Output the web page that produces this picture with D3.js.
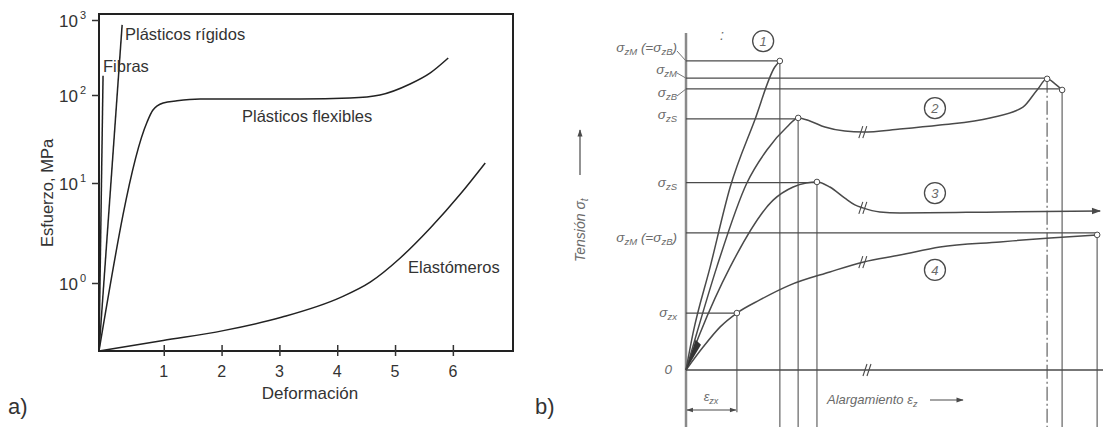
<!DOCTYPE html>
<html>
<head>
<meta charset="utf-8">
<script src="https://cdn.jsdelivr.net/npm/d3@7"></script>
<style>
  body { margin: 0; background: #fff; }
  svg { display: block; }
  .lt { font-family: "Liberation Sans", Arial, sans-serif; fill: #333; }
  .rt { font-family: "Liberation Sans", Arial, sans-serif; font-style: italic; fill: #6a6a6a; }
</style>
</head>
<body>
<script>
// ---------- panel a) data ----------
const xTicks = [1, 2, 3, 4, 5, 6];
const yTicks = [1, 10, 100, 1000];
const yTickExp = ["0", "1", "2", "3"];
// [deformacion, esfuerzo MPa]
const fibras = [[-0.12, 0.2], [-0.05, 180]];
const rigidos = [[-0.12, 0.2], [0.28, 860]];
const flexibles = [[-0.12, 0.2], [0.71, 49], [0.81, 67], [0.99, 81], [1.23, 86], [1.63, 90],
  [3.36, 90], [4.22, 92.4], [4.74, 100], [5.26, 140], [5.61, 197], [5.92, 311]];
const elastomeros = [[-0.12, 0.2], [0.99, 0.257], [2.03, 0.324], [3.05, 0.447], [4.05, 0.708],
  [4.57, 1.02], [5.09, 1.78], [5.61, 3.55], [6.13, 7.76], [6.56, 16.9]];

// ---------- panel b) data (schematic units 0..100) ----------
const curve1 = [[0, 0], [1.7, 11], [5.8, 30.6], [10.6, 54.3], [16.5, 74.2], [21.3, 89.9], [22.5, 91.7]];
const curve2 = [[0, 0], [2.6, 11], [7.4, 30.6], [14.6, 55.5], [19.4, 65.3], [24.2, 72.1], [26.9, 74.8],
  [29.7, 73.9], [33.3, 72.1], [38.1, 70.9], [42.4, 70.6], [51.3, 71.5], [60.9, 72.7], [72.9, 74.8],
  [80.8, 78], [84.2, 83.1], [86.6, 86.4], [88.5, 84.9], [90.2, 83.1]];
const curve3 = [[0, 0], [3.4, 11], [10.6, 30.6], [20.9, 50.4], [25.7, 54.3], [28.8, 55.5], [31.4, 55.8],
  [34.5, 54.3], [38.1, 51.0], [40.5, 49.0], [42.4, 48.1], [46.5, 46.9], [51.3, 46.6], [75.3, 46.9], [99.3, 47.2]];
const curve4 = [[0, 0], [4.1, 6.8], [8.2, 12.8], [12.2, 16.9], [17.7, 20.8], [24.9, 25.2], [34.5, 29.1],
  [42.4, 32], [51.3, 34.1], [60.9, 36.5], [75.3, 38], [87.3, 39.2], [98.6, 40.1]];
const levelValues = [91.7, 86.6, 83.4, 74.5, 55.6, 40.7, 16.9, 0];
const levelEnds = [22.5, 86.6, 90.2, 26.9, 31.4, 98.6, 12.2, 100];
const levelNames = [["σ", "zM", " (=σ", "zB", ")"], ["σ", "zM"], ["σ", "zB"], ["σ", "zS"], ["σ", "zS"],
  ["σ", "zM", " (=σ", "zB", ")"], ["σ", "zx"], ["0"]];
const vertX = [22.5, 26.9, 31.4, 12.2, 86.6, 90.2, 98.6];
const vertTop = [91.7, 74.8, 55.8, 16.9, 86.4, 83.1, 40.1];
const vertDashed = [false, false, false, false, true, false, false];
const endPoints = [[22.5, 91.7], [26.9, 74.8], [31.4, 55.8], [12.2, 16.9], [86.6, 86.4], [90.2, 83.1], [98.6, 40.1]];
const breaks = [[42.4, 70.6], [42.4, 48.1], [42.4, 32], [43.4, 0]];
const circleNums = ["1", "2", "3", "4"];
const circlePos = [[18.5, 97.6], [59.7, 77.7], [59.7, 52.5], [59.7, 29.7]];

const svg = d3.select("body").append("svg").attr("width", 1103).attr("height", 427);

// ================= panel a) =================
const x = d3.scaleLinear().domain([-0.12, 7.04]).range([99, 513]);
const y = d3.scaleLog().domain([0.2, 1, 10, 100, 1000]).range([351, 283, 183, 95, 20]);

const gA = svg.append("g");
gA.append("rect").attr("x", 99).attr("y", 14).attr("width", 414).attr("height", 337)
  .attr("fill", "none").attr("stroke", "#222").attr("stroke-width", 2);

// y ticks
gA.append("g").attr("transform", "translate(99,0)")
  .call(d3.axisLeft(y).tickValues(yTicks).tickFormat("").tickSize(7).tickSizeOuter(0))
  .call(g => g.select(".domain").remove())
  .call(g => g.selectAll("line").attr("stroke", "#333").attr("stroke-width", 1.5));
gA.selectAll(".ylab").data(yTicks).join("text").attr("class", "lt")
  .attr("x", 78).attr("y", d => y(d) + 7).attr("text-anchor", "end").attr("font-size", 17).text("10");
gA.selectAll(".yexp").data(yTicks).join("text").attr("class", "lt")
  .attr("x", 80).attr("y", d => y(d) - 1).attr("font-size", 11).text((d, i) => yTickExp[i]);

// x ticks
gA.append("g").attr("transform", "translate(0,351)")
  .call(d3.axisBottom(x).tickValues(xTicks).tickFormat("").tickSize(5).tickSizeOuter(0))
  .call(g => g.select(".domain").remove())
  .call(g => g.selectAll("line").attr("y1", -6).attr("stroke", "#333").attr("stroke-width", 1.5));
gA.selectAll(".xlab").data(xTicks).join("text").attr("class", "lt")
  .attr("x", d => x(d)).attr("y", 377).attr("text-anchor", "middle").attr("font-size", 16).text(d => d);

gA.append("text").attr("class", "lt").attr("x", 310).attr("y", 399).attr("text-anchor", "middle")
  .attr("font-size", 17).text("Deformación");
gA.append("text").attr("class", "lt").attr("transform", "translate(53,193) rotate(-90)")
  .attr("text-anchor", "middle").attr("font-size", 16.5).text("Esfuerzo, MPa");

const lineA = d3.line().x(d => x(d[0])).y(d => y(d[1]));
const lineAc = d3.line().x(d => x(d[0])).y(d => y(d[1])).curve(d3.curveMonotoneX);
[fibras, rigidos].forEach(s => gA.append("path").attr("d", lineA(s)).attr("fill", "none")
  .attr("stroke", "#222").attr("stroke-width", 1.5));
[flexibles, elastomeros].forEach(s => gA.append("path").attr("d", lineAc(s)).attr("fill", "none")
  .attr("stroke", "#222").attr("stroke-width", 1.5));

gA.append("text").attr("class", "lt").attr("x", 125).attr("y", 40).attr("font-size", 16.5).text("Plásticos rígidos");
gA.append("text").attr("class", "lt").attr("x", 103).attr("y", 72).attr("font-size", 16.5).text("Fibras");
gA.append("text").attr("class", "lt").attr("x", 242).attr("y", 122).attr("font-size", 16.5).text("Plásticos flexibles");
gA.append("text").attr("class", "lt").attr("x", 408).attr("y", 273).attr("font-size", 16.5).text("Elastómeros");
svg.append("text").attr("class", "lt").attr("x", 8).attr("y", 414).attr("font-size", 22).attr("fill", "#111").text("a)");
svg.append("text").attr("class", "lt").attr("x", 535).attr("y", 414).attr("font-size", 22).attr("fill", "#111").text("b)");

// ================= panel b) =================
const xr = d3.scaleLinear().domain([0, 100]).range([686, 1103]);
const yr = d3.scaleLinear().domain([0, 100]).range([370, 33]);
const ink = "#4a4a4a";

const defs = svg.append("defs");
defs.append("marker").attr("id", "arr").attr("viewBox", "0 0 10 10").attr("refX", 9).attr("refY", 5)
  .attr("markerWidth", 9).attr("markerHeight", 6).attr("orient", "auto-start-reverse")
  .append("path").attr("d", "M0,1.5L10,5L0,8.5Z").attr("fill", ink);

const gB = svg.append("g");
// axis
gB.append("line").attr("x1", xr(0)).attr("x2", xr(0)).attr("y1", yr(100)).attr("y2", 427)
  .attr("stroke", "#8a8a8a").attr("stroke-width", 2.5);

// verticals
gB.selectAll(".vert").data(vertX).join("line")
  .attr("x1", d => xr(d)).attr("x2", d => xr(d))
  .attr("y1", (d, i) => yr(vertTop[i])).attr("y2", (d, i) => i === 3 ? yr(-12.5) : 427)
  .attr("stroke", "#8a8a8a").attr("stroke-width", 1.6)
  .attr("stroke-dasharray", (d, i) => vertDashed[i] ? "14,3,2,3" : null);

// levels
gB.selectAll(".lev").data(levelValues).join("line")
  .attr("x1", xr(0)).attr("x2", (d, i) => xr(levelEnds[i]))
  .attr("y1", d => yr(d)).attr("y2", d => yr(d))
  .attr("stroke", ink).attr("stroke-width", 1.3);

const labelY = [48, 70, 93, 115, 183, 238, 313, 370];
levelNames.forEach((parts, i) => {
  const t = gB.append("text").attr("class", "rt").attr("x", i === 7 ? 672 : 677).attr("y", labelY[i] + 4)
    .attr("text-anchor", "end").attr("font-size", 13.5);
  parts.forEach((p, k) => {
    const sub = k % 2 === 1;
    t.append("tspan").attr("font-size", sub ? 9.5 : 13.5).attr("dy", sub ? 3 : (k > 0 ? -3 : 0)).text(p);
  });
});
// small hooks from labels to lines
[[0, 48], [1, 70], [2, 93]].forEach(([i, ly]) => {
  gB.append("path").attr("d", `M${677},${ly + 3} L${xr(0)},${yr(levelValues[i])}`)
    .attr("stroke", "#777").attr("fill", "none").attr("stroke-width", 1);
});

// curves
const lineB = d3.line().x(d => xr(d[0])).y(d => yr(d[1])).curve(d3.curveMonotoneX);
[curve1, curve2, curve4].forEach(c => gB.append("path").attr("d", lineB(c)).attr("fill", "none")
  .attr("stroke", ink).attr("stroke-width", 1.5));
gB.append("path").attr("d", lineB(curve3)).attr("fill", "none").attr("stroke", ink)
  .attr("stroke-width", 1.5).attr("marker-end", "url(#arr)");

// wedge at origin
gB.append("path").attr("d", `M${xr(0)},${yr(0)} L${xr(2.3)},${yr(9)} L${xr(3.6)},${yr(7.5)} Z`).attr("fill", "#333");

// end points
gB.selectAll(".ep").data(endPoints).join("circle")
  .attr("cx", d => xr(d[0])).attr("cy", d => yr(d[1])).attr("r", 2.8)
  .attr("fill", "#fff").attr("stroke", ink).attr("stroke-width", 1);

// break marks
breaks.forEach(b => {
  [-2, 2].forEach(o => gB.append("line")
    .attr("x1", xr(b[0]) + o - 2).attr("y1", yr(b[1]) + 6)
    .attr("x2", xr(b[0]) + o + 2).attr("y2", yr(b[1]) - 6)
    .attr("stroke", ink).attr("stroke-width", 1.1));
});

// numbered circles
gB.selectAll(".nc").data(circlePos).join("circle")
  .attr("cx", d => xr(d[0])).attr("cy", d => yr(d[1])).attr("r", 10.5)
  .attr("fill", "none").attr("stroke", ink).attr("stroke-width", 1.3);
gB.selectAll(".nt").data(circlePos).join("text").attr("class", "rt")
  .attr("x", d => xr(d[0])).attr("y", d => yr(d[1]) + 5).attr("text-anchor", "middle")
  .attr("font-size", 13).attr("fill", "#444").text((d, i) => circleNums[i]);

// ":" mark
gB.append("text").attr("class", "rt").attr("x", 720).attr("y", 40).attr("font-size", 14).attr("fill", "#888").text(":");

// Tension label
const tl = gB.append("text").attr("class", "rt").attr("transform", "translate(585,262) rotate(-90)")
  .attr("font-size", 14);
tl.append("tspan").text("Tensión   σ");
tl.append("tspan").attr("font-size", 10).attr("dy", 3).text("t");
gB.append("line").attr("x1", 580).attr("x2", 580).attr("y1", 175).attr("y2", 130)
  .attr("stroke", ink).attr("stroke-width", 1.2).attr("marker-end", "url(#arr)");

// Alargamiento label
const al = gB.append("text").attr("class", "rt").attr("x", 827).attr("y", 404).attr("font-size", 13);
al.append("tspan").text("Alargamiento ε");
al.append("tspan").attr("font-size", 9).attr("dy", 3).text("z");
gB.append("line").attr("x1", 930).attr("x2", 963).attr("y1", 400).attr("y2", 400)
  .attr("stroke", ink).attr("stroke-width", 1.2).attr("marker-end", "url(#arr)");

// epsilon zx
const ez = gB.append("text").attr("class", "rt").attr("x", 711).attr("y", 401)
  .attr("text-anchor", "middle").attr("font-size", 13);
ez.append("tspan").text("ε");
ez.append("tspan").attr("font-size", 9).attr("dy", 3).text("zx");
gB.append("line").attr("x1", xr(0) + 1).attr("x2", xr(12.2) - 1).attr("y1", 410).attr("y2", 410)
  .attr("stroke", ink).attr("stroke-width", 1.1)
  .attr("marker-start", "url(#arr)").attr("marker-end", "url(#arr)");
</script>
</body>
</html>
